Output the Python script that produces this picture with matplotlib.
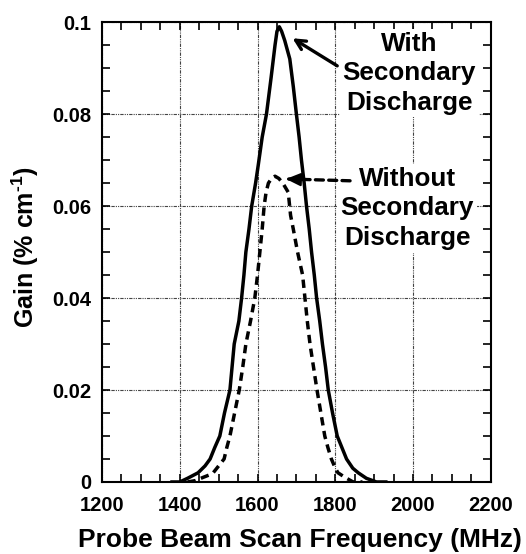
import matplotlib
matplotlib.use("Agg")
import matplotlib.pyplot as plt
from matplotlib.ticker import MultipleLocator

plt.rcParams['font.family'] = ['Liberation Sans', 'DejaVu Sans']
plt.rcParams['font.weight'] = 'bold'
plt.rcParams['mathtext.fontset'] = 'custom'
plt.rcParams['mathtext.rm'] = 'Liberation Sans:bold'
plt.rcParams['mathtext.bf'] = 'Liberation Sans:bold'
plt.rcParams['mathtext.default'] = 'bf'

# With secondary discharge (solid)
freq_with = [1380, 1400, 1420, 1447, 1465, 1478, 1490, 1503, 1515, 1529, 1540, 1552, 1559,
             1565, 1570, 1578, 1585, 1595, 1602, 1612, 1623, 1635, 1645, 1650, 1656, 1662,
             1670, 1683, 1692, 1700, 1707, 1713, 1720, 1726, 1733, 1739, 1746, 1752, 1760,
             1767, 1775, 1782, 1793, 1805, 1817, 1829, 1845, 1859, 1880, 1906, 1930]
gain_with = [0, 0.0, 0.0008, 0.002, 0.0035, 0.005, 0.0075, 0.010, 0.015, 0.020, 0.030, 0.035,
             0.040, 0.045, 0.050, 0.055, 0.060, 0.065, 0.069, 0.075, 0.080, 0.088, 0.095, 0.098,
             0.099, 0.098, 0.096, 0.092, 0.086, 0.080, 0.075, 0.070, 0.065, 0.060, 0.055, 0.050,
             0.045, 0.040, 0.035, 0.030, 0.025, 0.020, 0.015, 0.010, 0.0075, 0.005, 0.003, 0.002,
             0.0008, 0.0, 0]

# Without secondary discharge (dashed)
freq_without = [1420, 1440, 1460, 1475, 1486, 1500, 1514, 1521, 1529, 1541, 1553, 1562, 1570,
                1582, 1593, 1600, 1606, 1612, 1617, 1622, 1628, 1636, 1645, 1655, 1665, 1679,
                1685, 1692, 1703, 1716, 1722, 1728, 1735, 1744, 1753, 1763, 1773, 1781, 1790,
                1800, 1807, 1825, 1846, 1870]
gain_without = [0, 0.0003, 0.001, 0.0015, 0.002, 0.0035, 0.005, 0.0075, 0.010, 0.015, 0.020,
                0.025, 0.030, 0.035, 0.040, 0.045, 0.050, 0.055, 0.060, 0.063, 0.065, 0.066,
                0.0665, 0.066, 0.065, 0.063, 0.058, 0.055, 0.050, 0.045, 0.040, 0.035, 0.030,
                0.025, 0.020, 0.015, 0.010, 0.0075, 0.005, 0.003, 0.002, 0.001, 0.0, 0]

xticks = [1200, 1400, 1600, 1800, 2000, 2200]
yticks = [0, 0.02, 0.04, 0.06, 0.08, 0.1]
ytick_labels = ['0', '0.02', '0.04', '0.06', '0.08', '0.1']

fig = plt.figure(figsize=(5.26, 5.54), dpi=100)
ax = fig.add_axes([0.194, 0.130, 0.739, 0.830])

ax.plot(freq_with, gain_with, color='black', lw=2.5, solid_joinstyle='round', zorder=3)
ax.plot(freq_without, gain_without, color='black', lw=2.5, linestyle=(0, (2.4, 1.6)), zorder=3)

ax.set_xlim(1200, 2200)
ax.set_ylim(0, 0.1)
ax.set_xticks(xticks)
ax.set_xticklabels([str(t) for t in xticks])
ax.set_yticks(yticks)
ax.set_yticklabels(ytick_labels)
ax.xaxis.set_minor_locator(MultipleLocator(50))
ax.yaxis.set_minor_locator(MultipleLocator(0.005))
ax.tick_params(which='both', direction='in', top=True, right=True, length=6, width=1.2)
ax.tick_params(axis='x', which='major', labelsize=14.5, pad=10)
ax.tick_params(axis='y', which='major', labelsize=14.5, pad=8)
for lab in ax.get_xticklabels() + ax.get_yticklabels():
    lab.set_fontweight('bold')

ax.grid(True, which='major', color='#444444', linestyle=(0, (3, 1, 1, 1, 1, 1)), linewidth=0.8)
for sp in ax.spines.values():
    sp.set_linewidth(1.5)

ax.set_xlabel('Probe Beam Scan Frequency (MHz)', fontsize=19, fontweight='bold')
ax.xaxis.set_label_coords(0.51, -0.1)
ax.set_ylabel('Gain (% cm$^{\\text{-1}}$)', fontsize=18, fontweight='bold')
ax.yaxis.set_label_coords(-0.158, 0.51)

ax.text(1990, 0.0889, 'With\nSecondary\nDischarge', ha='center', va='center', fontsize=18.8,
        fontweight='bold', linespacing=1.28, zorder=4,
        bbox=dict(facecolor='white', edgecolor='none', pad=2))
ax.text(1985, 0.0595, 'Without\nSecondary\nDischarge', ha='center', va='center', fontsize=18.8,
        fontweight='bold', linespacing=1.28, zorder=4,
        bbox=dict(facecolor='white', edgecolor='none', pad=2))

ax.annotate('', xy=(1690, 0.0965), xytext=(1805, 0.0905),
            arrowprops=dict(arrowstyle='->,head_length=0.7,head_width=0.35', color='black',
                            lw=2.4, shrinkA=0, shrinkB=0), zorder=5)
ax.annotate('', xy=(1675, 0.0659), xytext=(1838, 0.0655),
            arrowprops=dict(arrowstyle='-', color='black', lw=2.4,
                            linestyle=(0, (2.4, 1.6)), shrinkA=0, shrinkB=0), zorder=5)
ax.annotate('', xy=(1673, 0.0659), xytext=(1728, 0.0657),
            arrowprops=dict(arrowstyle='-|>,head_length=0.9,head_width=0.4', color='black',
                            lw=1.5, shrinkA=0, shrinkB=0), zorder=5)

fig.savefig('out.png', dpi=100)
